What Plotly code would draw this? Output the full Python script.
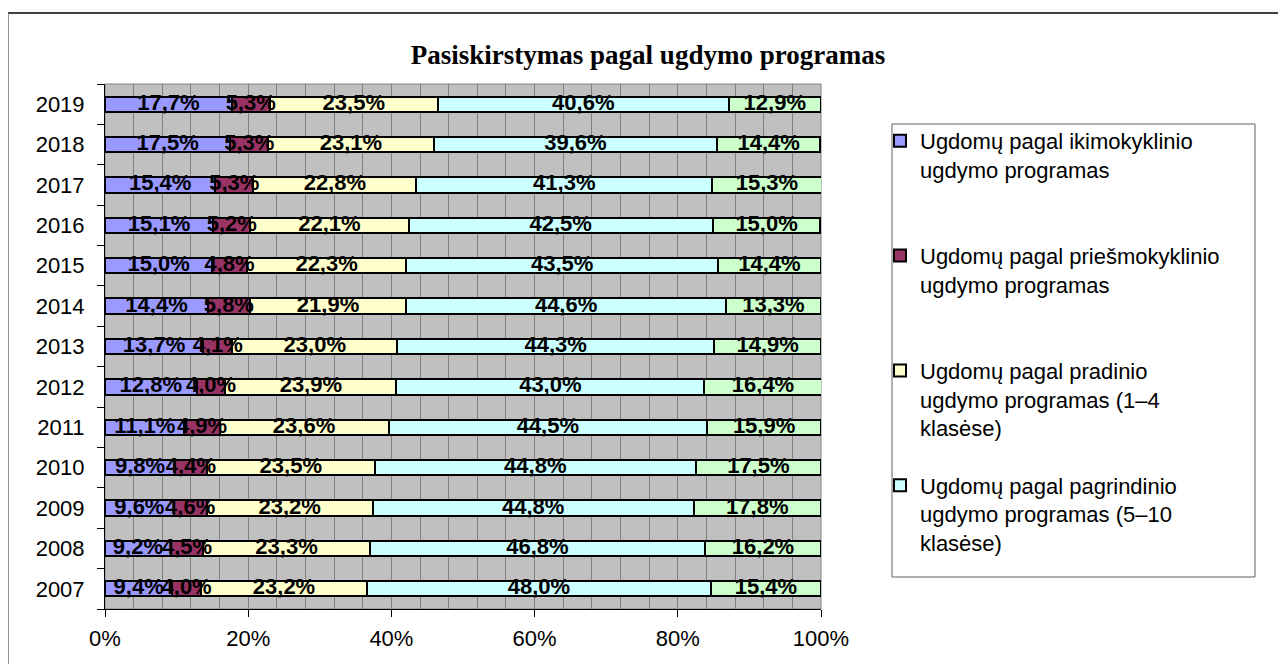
import plotly.graph_objects as go

years = ["2007", "2008", "2009", "2010", "2011", "2012", "2013",
         "2014", "2015", "2016", "2017", "2018", "2019"]

ikimokyklinio = [9.4, 9.2, 9.6, 9.8, 11.1, 12.8, 13.7, 14.4, 15.0, 15.1, 15.4, 17.5, 17.7]
priesmokyklinio = [4.0, 4.5, 4.6, 4.4, 4.9, 4.0, 4.1, 5.8, 4.8, 5.2, 5.3, 5.3, 5.3]
pradinio = [23.2, 23.3, 23.2, 23.5, 23.6, 23.9, 23.0, 21.9, 22.3, 22.1, 22.8, 23.1, 23.5]
pagrindinio = [48.0, 46.8, 44.8, 44.8, 44.5, 43.0, 44.3, 44.6, 43.5, 42.5, 41.3, 39.6, 40.6]
vidurinio = [15.4, 16.2, 17.8, 17.5, 15.9, 16.4, 14.9, 13.3, 14.4, 15.0, 15.3, 14.4, 12.9]

series_names = [
    "Ugdomų pagal ikimokyklinio<br>ugdymo programas<br> ",
    "Ugdomų pagal priešmokyklinio<br>ugdymo programas<br> ",
    "Ugdomų pagal pradinio<br>ugdymo programas (1–4<br>klasėse)",
    "Ugdomų pagal pagrindinio<br>ugdymo programas (5–10<br>klasėse)",
    "Ugdomų pagal vidurinio ugdymo programas",
]
series_values = [ikimokyklinio, priesmokyklinio, pradinio, pagrindinio, vidurinio]
series_colors = ["#9999FF", "#993366", "#FFFFCC", "#CCFFFF", "#CCFFCC"]
series_in_legend = [True, True, True, True, False]

x_ticks = [0, 20, 40, 60, 80, 100]
x_tick_labels = ["0%", "20%", "40%", "60%", "80%", "100%"]

title_text = "Pasiskirstymas pagal ugdymo programas"

# the page body adds an 8px margin; work in window pixels and shift
OFF = 8
W, H = 1286 - OFF, 664 - OFF
L, R, T, B = 105 - OFF, 821 - OFF, 84 - OFF, 609 - OFF
pw, ph = R - L, B - T


def px_x(v):
    return (v - OFF - L) / pw


def px_y(v):
    return (B - (v - OFF)) / ph


fig = go.Figure()
for i, (name, vals, col, leg) in enumerate(zip(series_names, series_values,
                                                 series_colors, series_in_legend)):
    fig.add_trace(go.Bar(
        x=vals, y=years, orientation="h", name=name,
        marker=dict(color=col, line=dict(color="black", width=2)),
        width=0.38, textposition="none",
        showlegend=leg, legendgroup=f"g{i}",
        hoverinfo="x+y+name",
    ))

# data labels, centred in each stacked segment
base = [0.0] * len(years)
for vals in series_values:
    mids = [b + v / 2 for b, v in zip(base, vals)]
    fig.add_trace(go.Scatter(
        x=mids, y=years, mode="text",
        text=[f"{v:.1f}%".replace(".", ",") for v in vals],
        textposition="middle center",
        textfont=dict(family="Arial, Liberation Sans", size=22, color="black",
                      weight="bold"),
        showlegend=False, hoverinfo="skip", cliponaxis=False,
    ))
    base = [b + v for b, v in zip(base, vals)]

fig.update_layout(
    width=W, height=H,
    margin=dict(l=L, r=W - R, t=T, b=H - B),
    barmode="stack",
    paper_bgcolor="white",
    plot_bgcolor="#C0C0C0",
    font=dict(family="Arial, Liberation Sans", color="black"),
    title=dict(text=f"<b>{title_text}</b>", x=(648 - OFF) / W, xref="container",
               xanchor="center", y=1 - (55 - OFF) / H, yref="container",
               yanchor="middle",
               font=dict(family="Times New Roman, Liberation Serif", size=27,
                         color="black")),
    legend=dict(x=px_x(880), y=px_y(120), xanchor="left", yanchor="top",
                bgcolor="rgba(0,0,0,0)", borderwidth=0,
                font=dict(family="Arial, Liberation Sans", size=22, color="black"),
                traceorder="grouped", tracegroupgap=26, itemwidth=30,
                valign="top"),
    xaxis=dict(range=[0, 100], tickvals=x_ticks, ticktext=x_tick_labels,
               showgrid=True, gridcolor="#808080", gridwidth=1,
               minor=dict(dtick=4, showgrid=True, gridcolor="#808080", gridwidth=1),
               ticks="outside", ticklen=7, tickcolor="black", tickwidth=1,
               showline=True, linecolor="black", linewidth=1,
               tickfont=dict(size=22), ticklabelstandoff=3,
               zeroline=False, fixedrange=True),
    yaxis=dict(showgrid=False, ticks="outside", tickson="boundaries",
               ticklen=7, tickcolor="black", tickwidth=1,
               showline=True, linecolor="black", linewidth=1,
               tickfont=dict(size=22), ticklabelstandoff=15,
               categoryorder="array", categoryarray=years,
               range=[-0.5, len(years) - 0.5], autorange=False,
               fixedrange=True),
    shapes=[
        dict(type="rect", xref="paper", yref="paper", x0=0, x1=1, y0=0, y1=1,
             line=dict(color="#808080", width=1), layer="below"),
        dict(type="rect", xref="paper", yref="paper",
             x0=px_x(892), x1=px_x(1255), y0=px_y(577), y1=px_y(124),
             line=dict(color="#606060", width=1)),
        dict(type="line", xref="paper", yref="paper",
             x0=px_x(8), x1=px_x(1300), y0=px_y(13), y1=px_y(13),
             line=dict(color="black", width=1.5)),
        dict(type="line", xref="paper", yref="paper",
             x0=px_x(8), x1=px_x(8), y0=px_y(13), y1=px_y(680),
             line=dict(color="#707070", width=1.5)),
    ],
)

fig.write_html("out.html")
